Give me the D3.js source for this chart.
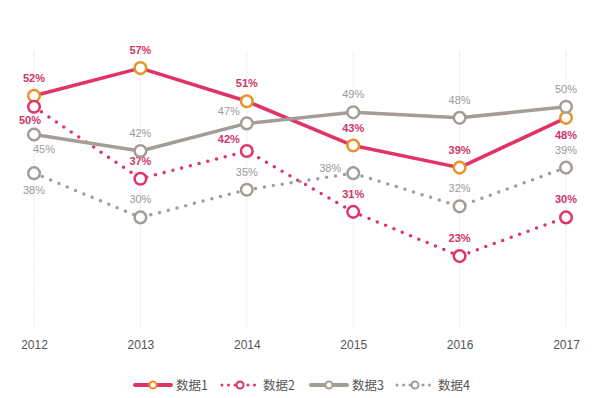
<!DOCTYPE html>
<html>
<head>
<meta charset="utf-8">
<script src="https://cdn.jsdelivr.net/npm/d3@7"></script>
<style>
    body { margin: 0; background: #fff; }
    svg { display: block; font-family: "Liberation Sans", Arial, sans-serif; }
</style>
</head>
<body>
<div id="chart"></div>
<script>
// data
var years = ["2012", "2013", "2014", "2015", "2016", "2017"];
var seriesNames = ["数据1", "数据2", "数据3", "数据4"];
var data1 = [52, 57, 51, 43, 39, 48];
var data2 = [50, 37, 42, 31, 23, 30];
var data3 = [45, 42, 47, 49, 48, 50];
var data4 = [38, 30, 35, 38, 32, 39];
// where each value label sits next to its point
var place1 = ["t", "t", "t", "t", "t", "b"];
var place2 = ["bl", "t", "tl", "t", "t", "t"];
var place3 = ["br", "t", "tl", "t", "t", "t"];
var place4 = ["b", "t", "t", "l", "t", "t"];

var width = 600,
    height = 398;

var crimson = "#e03466",
    orange = "#e8932a",
    gray = "#a39d97";

var series = [
    { name: seriesNames[0], values: data1, place: place1, line: crimson, marker: orange, dotted: false, label: "#cf3568", bold: true },
    { name: seriesNames[1], values: data2, place: place2, line: crimson, marker: crimson, dotted: true, label: "#cf3568", bold: true },
    { name: seriesNames[2], values: data3, place: place3, line: gray, marker: gray, dotted: false, label: "#9a9a9a", bold: false },
    { name: seriesNames[3], values: data4, place: place4, line: gray, marker: gray, dotted: true, label: "#9a9a9a", bold: false }
];

var x = d3.scalePoint().domain(years).range([34, 566]);
var y = d3.scaleLinear().domain([10, 60]).range([328, 51.5]);

var svg = d3.select("#chart").append("svg")
    .attr("width", width)
    .attr("height", height);

// vertical dotted grid
svg.append("g")
    .selectAll("line")
    .data(years)
    .enter().append("line")
    .attr("x1", function(d) { return x(d); })
    .attr("x2", function(d) { return x(d); })
    .attr("y1", y(60))
    .attr("y2", y(10))
    .attr("stroke", "#cfcfcf")
    .attr("stroke-width", 1)
    .attr("stroke-dasharray", "1,2");

// x axis labels
var xAxis = d3.axisBottom(x).tickSize(0).tickPadding(0);
var gx = svg.append("g")
    .attr("transform", "translate(0," + 340 + ")")
    .call(xAxis);
gx.select(".domain").remove();
gx.selectAll("text")
    .attr("font-size", 12)
    .attr("font-family", "Liberation Sans, Arial, sans-serif")
    .attr("fill", "#555");

var line = d3.line()
    .x(function(d, i) { return x(years[i]); })
    .y(function(d) { return y(d); });

var offsets = {
    t: [0, -14],
    b: [0, 21],
    bl: [-4, 17],
    br: [10, 19],
    tl: [-18, -8],
    l: [-23, -1]
};

series.forEach(function(s) {
    var g = svg.append("g");

    g.append("path")
        .datum(s.values)
        .attr("d", line)
        .attr("fill", "none")
        .attr("stroke", s.line)
        .attr("stroke-width", 3.5)
        .attr("stroke-linecap", "round")
        .attr("stroke-linejoin", "round")
        .attr("stroke-dasharray", s.dotted ? "0,9" : null);

    g.selectAll("circle")
        .data(s.values)
        .enter().append("circle")
        .attr("cx", function(d, i) { return x(years[i]); })
        .attr("cy", function(d) { return y(d); })
        .attr("r", 5.8)
        .attr("fill", "#fff")
        .attr("stroke", s.marker)
        .attr("stroke-width", 2.5);

    g.selectAll("text")
        .data(s.values)
        .enter().append("text")
        .attr("x", function(d, i) { return x(years[i]) + offsets[s.place[i]][0]; })
        .attr("y", function(d, i) { return y(d) + offsets[s.place[i]][1]; })
        .attr("text-anchor", "middle")
        .attr("font-size", 11)
        .attr("font-weight", s.bold ? "bold" : "normal")
        .attr("fill", s.label)
        .text(function(d) { return d + "%"; });
});

// legend
var legendX = [135, 222, 311, 397];
var legend = svg.append("g")
    .attr("transform", "translate(0,385)");

series.forEach(function(s, i) {
    var lg = legend.append("g")
        .attr("transform", "translate(" + legendX[i] + ",0)");
    lg.append("line")
        .attr("x1", 0)
        .attr("x2", 36)
        .attr("stroke", s.line)
        .attr("stroke-width", s.dotted ? 3 : 4)
        .attr("stroke-linecap", "round")
        .attr("stroke-dasharray", s.dotted ? "0,6.5" : null);
    lg.append("circle")
        .attr("cx", 18)
        .attr("r", 3.5)
        .attr("fill", "#fff")
        .attr("stroke", s.marker)
        .attr("stroke-width", 2);
    lg.append("text")
        .attr("x", 41)
        .attr("y", 4.5)
        .attr("font-size", 12.5)
        .attr("fill", "#555")
        .attr("font-family", "Noto Sans CJK SC, sans-serif")
        .text(s.name);
});
</script>
</body>
</html>
